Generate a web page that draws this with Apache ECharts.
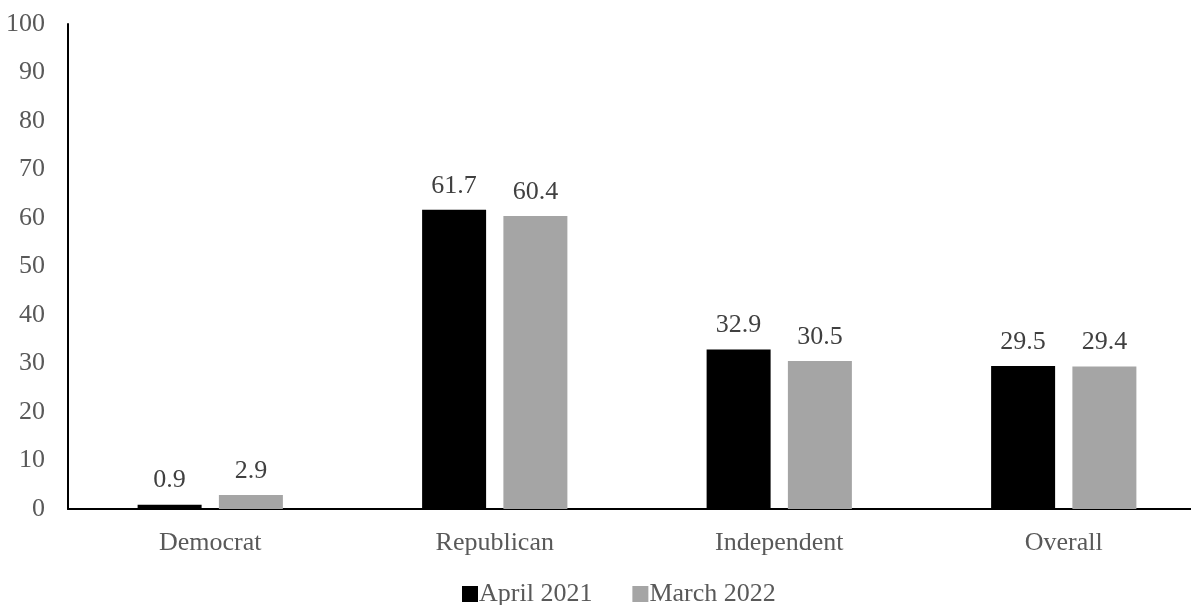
<!DOCTYPE html>
<html>
<head>
<meta charset="utf-8">
<script src="https://cdn.jsdelivr.net/npm/echarts@6/dist/echarts.min.js"></script>
<style>html,body{margin:0;padding:0;background:#fff;}#c{width:1191px;height:605px;}</style>
</head>
<body>
<div id="c"></div>
<script>
const categories = ['Democrat', 'Republican', 'Independent', 'Overall'];
const seriesNames = ['April 2021', 'March 2022'];
const april2021 = [0.9, 61.7, 32.9, 29.5];
const march2022 = [2.9, 60.4, 30.5, 29.4];
const yTicks = [0, 10, 20, 30, 40, 50, 60, 70, 80, 90, 100];

const font = 'Liberation Serif, Times New Roman, serif';
const chart = echarts.init(document.getElementById('c'), null, {renderer: 'canvas'});
const labelCfg = {show: true, position: 'top', distance: 11, color: '#404040', fontFamily: font, fontSize: 26};
chart.setOption({
  animation: false,
  textStyle: {fontFamily: font},
  legend: {
    data: seriesNames, top: 576, left: 457, itemWidth: 16, itemHeight: 16, itemGap: 40,
    icon: 'rect',
    textStyle: {fontFamily: font, fontSize: 26, color: '#595959', padding: [0, 0, 0, -4]}
  },
  grid: {left: 68, top: 24, width: 1138, height: 485, containLabel: false, outerBoundsMode: 'none'},
  xAxis: {
    type: 'category', data: categories,
    axisLine: {lineStyle: {color: '#000', width: 2}},
    axisTick: {show: false},
    axisLabel: {color: '#595959', fontFamily: font, fontSize: 26, margin: 21}
  },
  yAxis: {
    type: 'value', min: yTicks[0], max: yTicks[yTicks.length - 1], interval: 10,
    axisLine: {show: true, lineStyle: {color: '#000', width: 2}},
    axisTick: {show: false},
    splitLine: {show: false},
    axisLabel: {color: '#595959', fontFamily: font, fontSize: 26, margin: 23}
  },
  series: [
    {name: seriesNames[0], type: 'bar', data: april2021, barWidth: 64, barGap: '27%', itemStyle: {color: '#000000'}, label: labelCfg},
    {name: seriesNames[1], type: 'bar', data: march2022, barWidth: 64, itemStyle: {color: '#a5a5a5'}, label: labelCfg}
  ]
});
</script>
</body>
</html>
